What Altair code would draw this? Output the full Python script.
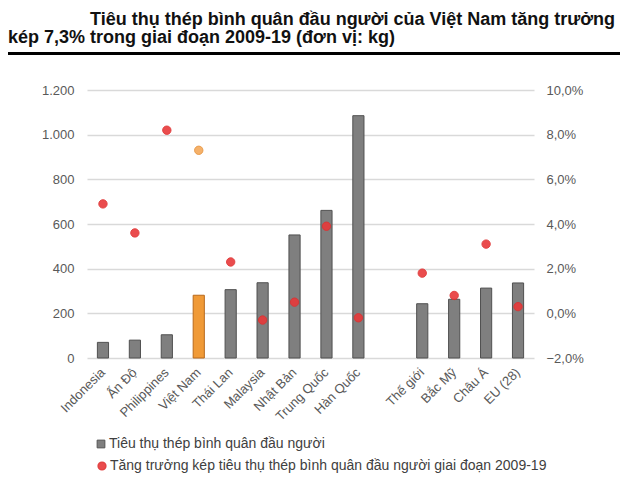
import altair as alt
import pandas as pd

# ---- data ----
countries = ["Indonesia", "Ấn Độ", "Philippines", "Việt Nam", "Thái Lan", "Malaysia",
             "Nhật Bản", "Trung Quốc", "Hàn Quốc", "Thế giới", "Bắc Mỹ", "Châu Á", "EU (28)"]
consumption_kg = [70, 80, 104, 281, 306, 337, 551, 661, 1085, 243, 263, 313, 336]
cagr_pct = [4.9, 3.6, 8.2, 7.3, 2.3, -0.3, 0.5, 3.9, -0.2, 1.8, 0.8, 3.1, 0.3]
x_order = countries[:9] + [" "] + countries[9:]   # blank slot separating the regions

series_bar = "Tiêu thụ thép bình quân đầu người"
series_dot = "Tăng trưởng kép tiêu thụ thép bình quân đầu người giai đoạn 2009-19"
title_line1 = "Tiêu thụ thép bình quân đầu người của Việt Nam tăng trưởng"
title_line2 = "kép 7,3% trong giai đoạn 2009-19 (đơn vị: kg)"

df = pd.DataFrame({
    "country": countries,
    "kg": consumption_kg,
    "cagr": [v / 100 for v in cagr_pct],
    "s_bar": series_bar,
    "s_dot": series_dot,
})

FONT = "Liberation Sans"
GRAY = "#7f7f7f"
ORANGE = "#F09A37"
RED = "#E8393A"
is_vn = alt.datum.country == "Việt Nam"

x_enc = alt.X("country:N", sort=x_order,
              scale=alt.Scale(domain=x_order, paddingInner=0.65, paddingOuter=0.325),
              axis=alt.Axis(title=None, labelAngle=-45, labelAlign="right", labelBaseline="middle",
                            labelPadding=12, labelFontSize=13, labelColor="#595959", labelFont=FONT,
                            domain=False, ticks=False, grid=False, labelOverlap=False))

bars = alt.Chart(df).mark_bar(strokeWidth=1).encode(
    x=x_enc,
    y=alt.Y("kg:Q", scale=alt.Scale(domain=[0, 1200], nice=False),
            axis=alt.Axis(title=None, values=[0, 200, 400, 600, 800, 1000, 1200],
                          labelExpr="replace(format(datum.value, ','), ',', '.')",
                          labelFontSize=13, labelColor="#595959", labelFont=FONT, labelPadding=13,
                          domain=False, ticks=False, grid=True, gridColor="#d9d9d9", gridWidth=1.5)),
    color=alt.condition(is_vn, alt.value(ORANGE),
                        alt.Color("s_bar:N", scale=alt.Scale(domain=[series_bar], range=[GRAY]),
                                  legend=alt.Legend(title=None, orient="none", legendX=7, legendY=347,
                                                    symbolType="square", symbolSize=60,
                                                    symbolStrokeColor="#555555", symbolStrokeWidth=1,
                                                    labelFontSize=14, labelFont=FONT, labelColor="#404040",
                                                    labelOffset=1, labelLimit=0, padding=0))),
    stroke=alt.condition(is_vn, alt.value("#B8691C"), alt.value("#505050")),
)

dots = alt.Chart(df).mark_circle(size=70, opacity=0.9, strokeWidth=1).encode(
    x=x_enc,
    y=alt.Y("cagr:Q", scale=alt.Scale(domain=[-0.02, 0.10], nice=False),
            axis=alt.Axis(title=None, orient="right",
                          values=[-0.02, 0, 0.02, 0.04, 0.06, 0.08, 0.10],
                          labelExpr="replace(format(datum.value, '.1%'), '.', ',')",
                          labelFontSize=13, labelColor="#595959", labelFont=FONT, labelPadding=12,
                          domain=False, ticks=False, grid=False)),
    color=alt.condition(is_vn, alt.value("#F4A95A"),
                        alt.Color("s_dot:N", scale=alt.Scale(domain=[series_dot], range=[RED]),
                                  legend=alt.Legend(title=None, orient="none", legendX=8, legendY=369,
                                                    symbolType="circle", symbolSize=60,
                                                    labelFontSize=14, labelFont=FONT, labelColor="#404040",
                                                    labelOffset=1, labelLimit=0, padding=0))),
    stroke=alt.condition(is_vn, alt.value("#E8923A"), alt.value("#E03030")),
)

t1 = alt.Chart(pd.DataFrame({"t": [title_line1]})).mark_text(
    font=FONT, fontSize=18, fontWeight="bold", align="right", baseline="alphabetic", color="#111111"
).encode(text="t:N", x=alt.value(528), y=alt.value(-65))

t2 = alt.Chart(pd.DataFrame({"t": [title_line2]})).mark_text(
    font=FONT, fontSize=18, fontWeight="bold", align="left", baseline="alphabetic", color="#111111"
).encode(text="t:N", x=alt.value(-79), y=alt.value(-47))

rule = alt.Chart(pd.DataFrame({"a": [0]})).mark_rule(color="#000000", strokeWidth=3).encode(
    x=alt.value(-79.5), x2=alt.value(533), y=alt.value(-36.5))

chart = alt.layer(bars, dots, t1, t2, rule).resolve_scale(
    y="independent", color="independent", stroke="independent"
).properties(
    width=447, height=268,
    autosize=alt.AutoSizeParams(type="none"),
    padding={"left": 79, "top": 82, "right": 88, "bottom": 116},
    background="white",
).configure_view(stroke=None)

chart.save("out.html", embed_options={"renderer": "svg", "actions": False})
